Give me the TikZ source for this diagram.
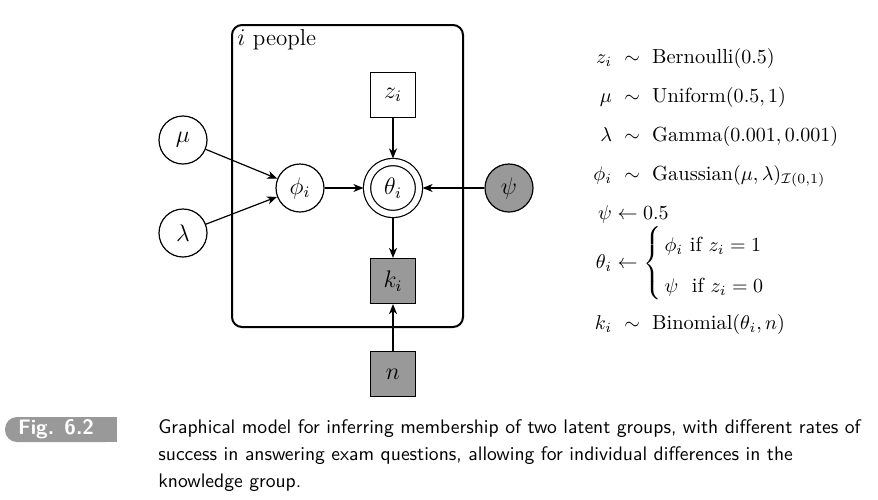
\documentclass[tikz,border=0pt]{standalone}
\usepackage{amsfonts}
\usepackage{amsmath}
\usepackage{tikz}
\usetikzlibrary{arrows.meta}

\begin{document}
\begin{tikzpicture}[x=0.5pt, y=-0.5pt, >={Stealth[length=5pt, width=4pt, inset=1.5pt]},
    latent/.style={draw, circle, semithick, minimum size=24pt, inner sep=0pt,
      font=\fontsize{11.5}{13}\selectfont},
    observed/.style={latent, fill=black!40},
    detnode/.style={latent, minimum size=26pt, double, double distance=3pt, outer sep=1.8pt},
    constbox/.style={draw, rectangle, semithick, minimum size=22.5pt, inner sep=0pt,
      font=\fontsize{11.5}{13}\selectfont},
    obsbox/.style={constbox, fill=black!40},
    edge/.style={->, semithick}]

    % Frame of the page
    \useasboundingbox (0,0) rectangle (878,499);

    % Plate
    \draw[line width=1pt, rounded corners=5pt] (232,25) rectangle (463,327);
    \node[anchor=north west, inner sep=1pt, font=\fontsize{11.5}{13}\selectfont]
      (platelabel) at (235,27) {$i$ people};

    % Nodes
    \node[latent] (mu) at (183,140) {$\mu$};
    \node[latent] (lambda) at (183,233) {$\lambda$};
    \node[latent] (phi) at (300,188) {$\phi_i$};
    \node[detnode] (theta) at (393,188) {$\theta_i$};
    \node[observed] (psi) at (509,188) {$\psi$};
    \node[constbox] (z) at (393,95) {$z_i$};
    \node[obsbox] (k) at (393,281) {$k_i$};
    \node[obsbox] (n) at (393,374) {$n$};

    % Edges
    \draw[edge] (mu) -- (phi);
    \draw[edge] (lambda) -- (phi);
    \draw[edge] (phi) -- (theta);
    \draw[edge] (z) -- (theta);
    \draw[edge] (psi) -- (theta);
    \draw[edge] (theta) -- (k);
    \draw[edge] (n) -- (k);

    % Model
    \node[anchor=north west, inner sep=0pt, font=\fontsize{10.2}{12}\selectfont]
      (model) at (583,36)
      {\renewcommand{\arraystretch}{1.62}\delimiterfactor=700
      $\begin{array}{r@{}l}
        z_i & {}\ \sim\ \text{Bernoulli}(0.5)\\
        \mu & {}\ \sim\ \text{Uniform}(0.5,1)\\
        \lambda & {}\ \sim\ \text{Gamma}(0.001,0.001)\\
        \phi_i & {}\ \sim\ \text{Gaussian}(\mu,\lambda)_{\mathcal{I}(0,1)}\\
        \psi & {}\leftarrow 0.5\\[-4pt]
        \theta_i & {}\leftarrow \renewcommand{\arraystretch}{1.7}\left\{\begin{array}{@{\,}l}\phi_i \text{ if } z_i=1\\ \psi\ \text{ if } z_i=0\end{array}\right.\\[-1pt]
        k_i & {}\ \sim\ \text{Binomial}(\theta_i,n)
      \end{array}$};

    % Caption tab
    \fill[black!40, rounded corners=6pt] (5,417) rectangle (117,442);
    \fill[black!40] (100,417) rectangle (117,442);
    \node[text=white, font=\sffamily\bfseries\fontsize{10.5}{12}\selectfont]
      (figtag) at (56,429) {Fig. 6.2};

    % Caption
    \node[anchor=north west, align=left, inner sep=0pt,
      font=\sffamily\fontsize{9.8}{13.5}\selectfont] (caption) at (158,419)
      {Graphical model for inferring membership of two latent groups, with different rates of\\
       success in answering exam questions, allowing for individual differences in the\\
       knowledge group.};
\end{tikzpicture}
\end{document}
